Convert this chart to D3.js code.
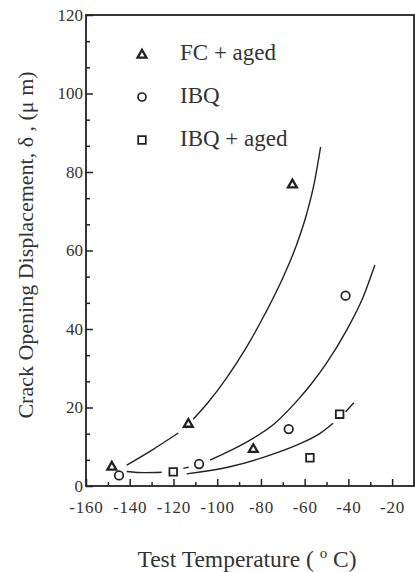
<!DOCTYPE html>
<html>
<head>
<meta charset="utf-8">
<script src="https://cdnjs.cloudflare.com/ajax/libs/d3/7.8.5/d3.min.js"></script>
<style>
    body { margin: 0; background: #fff; }
    svg, svg text { font-family: "Liberation Serif", "DejaVu Serif", "Times New Roman", Times, serif; }
</style>
</head>
<body>
<script>

// data points (temperature in C, delta in um)
var fcAged   = [[-148.2, 5.1], [-113.2, 16.0], [-83.5, 9.6], [-65.6, 77.0]];
var ibq      = [[-144.9, 2.7], [-108.3, 5.6], [-67.3, 14.5], [-41.3, 48.5]];
var ibqAged  = [[-120.1, 3.6], [-57.6, 7.2], [-44.0, 18.3]];

// fitted curves, drawn by hand in the original, with their breaks
var fcFit = [
    [[-141.4, 5.3], [-130, 9.1], [-117.8, 13.5]],
    [[-111, 17.0], [-104, 21.4], [-96, 27.3], [-87, 35.0], [-78, 44.0],
     [-70, 53.0], [-64, 61.0], [-59, 69.5], [-55.5, 77.5], [-52.7, 86.4]]
];
var ibqFit = [
    [[-141.4, 3.7], [-133, 3.4], [-125.4, 3.5]],
    [[-115.5, 4.5], [-113, 4.8]],
    [[-103.3, 6.6], [-94, 9.0], [-84, 12.0], [-74, 15.8], [-63, 22.0],
     [-57, 26.0], [-50, 31.3], [-40.8, 39.7], [-33.2, 48.2], [-27.9, 56.3]]
];
var ibqAgedFit = [
    [[-114, 3.1], [-94.2, 4.9], [-78.9, 7.3], [-63.7, 10.4], [-53, 13.4], [-47, 16.0]],
    [[-41.3, 18.9], [-37.5, 21.2]]
];

var legendNames = ["FC + aged", "IBQ", "IBQ + aged"];
var xTicks = [-160, -140, -120, -100, -80, -60, -40, -20];
var xMinor = [-150, -130, -110, -90, -70, -50, -30];
var yTicks = [0, 20, 40, 60, 80, 100, 120];

d3.select(window).on('load', init);

function init() {

    var w = 415;
    var h = 572;
    var ink = "#222";
    var serif = "'Liberation Serif', 'DejaVu Serif', 'Times New Roman', Times, serif";

    var svg = d3.select('body')
        .append('svg')
        .attr("width", w)
        .attr("height", h);

    var xScale = d3.scaleLinear()
        .domain([-160, -10])
        .range([86, 414]);

    var yScale = d3.scaleLinear()
        .domain([0, 120])
        .range([486, 15]);

    // minor y ticks split each 20 into thirds
    var yMinor = d3.range(0, 120, 20 / 3).filter(function(v, i){ return i % 3 != 0; });

    // frame
    svg.append("rect")
        .attr("x", xScale(-160))
        .attr("y", yScale(120))
        .attr("width", xScale(-10) - xScale(-160))
        .attr("height", yScale(0) - yScale(120))
        .attr("fill", "none")
        .attr("stroke", ink)
        .attr("stroke-width", 1.8);

    var xAxis = d3.axisBottom(xScale)
        .tickValues(xTicks)
        .tickSize(-7)
        .tickPadding(15)
        .tickFormat(function(d){ return d; });

    var gx = svg.append("g")
        .attr("transform", "translate(0," + yScale(0) + ")")
        .call(xAxis)
        .attr("font-family", serif);
    gx.select(".domain").remove();
    gx.selectAll("line").attr("stroke", ink).attr("stroke-width", 1.5);
    gx.selectAll("text").attr("font-size", 17).attr("fill", "#333").attr("letter-spacing", 0.8);

    var gxm = svg.append("g")
        .attr("transform", "translate(0," + yScale(0) + ")")
        .call(d3.axisBottom(xScale).tickValues(xMinor).tickSize(-4).tickFormat(""));
    gxm.select(".domain").remove();
    gxm.selectAll("line").attr("stroke", ink).attr("stroke-width", 1.5);

    var yAxis = d3.axisLeft(yScale)
        .tickValues(yTicks)
        .tickSize(-7)
        .tickPadding(3);

    var gy = svg.append("g")
        .attr("transform", "translate(" + xScale(-160) + ",0)")
        .call(yAxis)
        .attr("font-family", serif);
    gy.select(".domain").remove();
    gy.selectAll("line").attr("stroke", ink).attr("stroke-width", 1.5);
    gy.selectAll("text").attr("font-size", 17).attr("fill", "#333");

    var gym = svg.append("g")
        .attr("transform", "translate(" + xScale(-160) + ",0)")
        .call(d3.axisLeft(yScale).tickValues(yMinor).tickSize(-4).tickFormat(""));
    gym.select(".domain").remove();
    gym.selectAll("line").attr("stroke", ink).attr("stroke-width", 1.5);

    // fitted curves
    var line = d3.line()
        .x(function(d){ return xScale(d[0]); })
        .y(function(d){ return yScale(d[1]); })
        .curve(d3.curveMonotoneX);

    var fits = [].concat(fcFit, ibqFit, ibqAgedFit);
    svg.selectAll("path.fit")
        .data(fits)
        .enter()
        .append("path")
        .attr("class", "fit")
        .attr("d", line)
        .attr("fill", "none")
        .attr("stroke", ink)
        .attr("stroke-width", 1.4);

    // markers
    var triangle = d3.symbol().type(d3.symbolTriangle).size(34);
    var square = d3.symbol().type(d3.symbolSquare).size(58);

    function drawTri(g, pts) {
        g.selectAll(null).data(pts).enter().append("path")
            .attr("d", triangle)
            .attr("transform", function(d){ return "translate(" + xScale(d[0]) + "," + (yScale(d[1]) + 1) + ")"; })
            .attr("fill", "#fff").attr("stroke", ink).attr("stroke-width", 2.3);
    }
    function drawCirc(g, pts) {
        g.selectAll(null).data(pts).enter().append("circle")
            .attr("cx", function(d){ return xScale(d[0]); })
            .attr("cy", function(d){ return yScale(d[1]); })
            .attr("r", 4.3)
            .attr("fill", "#fff").attr("stroke", ink).attr("stroke-width", 1.7);
    }
    function drawSq(g, pts) {
        g.selectAll(null).data(pts).enter().append("path")
            .attr("d", square)
            .attr("transform", function(d){ return "translate(" + xScale(d[0]) + "," + yScale(d[1]) + ")"; })
            .attr("fill", "#fff").attr("stroke", ink).attr("stroke-width", 1.8);
    }

    var marks = svg.append("g");
    drawTri(marks, fcAged);
    drawCirc(marks, ibq);
    drawSq(marks, ibqAged);

    // legend
    var legendY = [54, 97, 140];
    var lg = svg.append("g").attr("font-family", serif);
    lg.append("path").attr("d", triangle)
        .attr("transform", "translate(142," + (legendY[0] + 1) + ")")
        .attr("fill", "#fff").attr("stroke", ink).attr("stroke-width", 2.3);
    lg.append("circle").attr("cx", 142).attr("cy", legendY[1]).attr("r", 4)
        .attr("fill", "#fff").attr("stroke", ink).attr("stroke-width", 1.7);
    lg.append("path").attr("d", square)
        .attr("transform", "translate(142," + legendY[2] + ")")
        .attr("fill", "#fff").attr("stroke", ink).attr("stroke-width", 1.8);

    lg.selectAll("text")
        .data(legendNames)
        .enter()
        .append("text")
        .attr("x", 180)
        .attr("y", function(d, i){ return legendY[i] + 6; })
        .attr("font-size", 23)
        .attr("fill", "#333")
        .text(function(d){ return d; });

    // axis titles
    svg.append("text")
        .attr("transform", "translate(33,245) rotate(-90)")
        .attr("text-anchor", "middle")
        .attr("font-family", serif)
        .attr("font-size", 22)
        .attr("fill", "#333")
        .text("Crack Opening Displacement, \u03b4 , (\u03bc m)");

    var xt = svg.append("text")
        .attr("x", 247)
        .attr("y", 567)
        .attr("text-anchor", "middle")
        .attr("font-family", serif)
        .attr("font-size", 23.5)
        .attr("fill", "#333");
    xt.append("tspan").text("Test Temperature (  ");
    xt.append("tspan").attr("font-size", 15).attr("dy", -9).text("o");
    xt.append("tspan").attr("dy", 9).text("  C)");
}
</script>
</body>
</html>
